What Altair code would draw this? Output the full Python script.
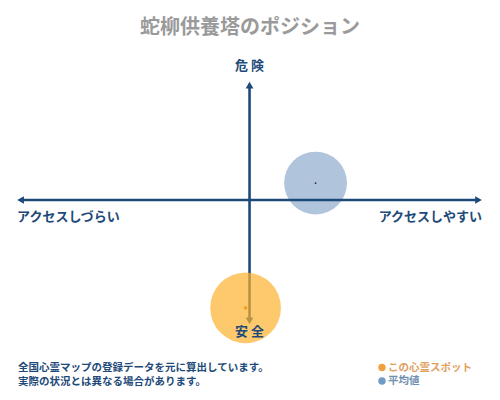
import altair as alt
import pandas as pd

# ---- data ----
title_text = "蛇柳供養塔のポジション"
series = ["この心霊スポット", "平均値"]
access = [-0.017, 0.284]   # x: アクセスしづらい (-1) … アクセスしやすい (+1)
danger = [-0.91, 0.143]    # y: 安全 (-1) … 危険 (+1)
left_label = "アクセスしづらい"
right_label = "アクセスしやすい"
top_label = "危 険"
bottom_label = "安 全"
notes = ["全国心霊マップの登録データを元に算出しています。", "実際の状況とは異なる場合があります。"]

# ---- styles ----
FONT = "Noto Sans CJK JP"
NAVY = "#1d4a78"
W, H = 484, 384

df = pd.DataFrame({"series": series, "access": access, "danger": danger})
one = pd.DataFrame({"k": [0]})

xs = alt.Scale(domain=[-1.039, 1.043], nice=False, zero=False)
ys = alt.Scale(domain=[-1.62, 1.62], nice=False, zero=False)


def X(v):
    return alt.XDatum(v, scale=xs, axis=None)


def Y(v):
    return alt.YDatum(v, scale=ys, axis=None)


px = alt.X("access:Q", scale=xs, axis=None)
py = alt.Y("danger:Q", scale=ys, axis=None)

avg = df[df.series == series[1]]
spot = df[df.series == series[0]]

avg_circle = alt.Chart(avg).mark_circle(size=3950, color="#b0c4dc", opacity=1).encode(x=px, y=py)

h_rule = alt.Chart(one).mark_rule(color=NAVY, strokeWidth=2.6).encode(x=X(-0.985), x2=alt.X2Datum(0.985), y=Y(0))
v_rule = alt.Chart(one).mark_rule(color=NAVY, strokeWidth=2.6).encode(x=X(0), y=Y(-1.02), y2=alt.Y2Datum(0.98))


def head(shape, xv, yv):
    return alt.Chart(one).mark_point(shape=shape, filled=True, size=60, color=NAVY, opacity=1).encode(x=X(xv), y=Y(yv))


heads = [
    head("triangle-left", -0.985, 0),
    head("triangle-right", 0.985, 0),
    head("triangle-up", 0, 0.97),
    head("triangle-down", 0, -1.02),
]

spot_circle = alt.Chart(spot).mark_circle(size=5000, color="#fcb22d", opacity=0.7).encode(x=px, y=py)
spot_dot = alt.Chart(spot).mark_circle(size=14, color="#f5a020", opacity=1).encode(x=px, y=py)
avg_dot = alt.Chart(avg).mark_circle(size=3, color="#222222", opacity=1).encode(x=px, y=py)


def label(text, xv, yv, align, baseline, dy, size=13):
    return alt.Chart(one).mark_text(
        text=text, align=align, baseline=baseline, dy=dy, font=FONT,
        fontSize=size, fontWeight="bold", color=NAVY
    ).encode(x=X(xv), y=Y(yv))


labels = [
    label(left_label, -1.0, 0, "left", "middle", 17),
    label(right_label, 1.0, 0, "right", "middle", 17),
    label(top_label, 0, 1.0, "center", "middle", -15),
    label(bottom_label, 0, -1.05, "center", "top", 2),
]

title = alt.Chart(one).mark_text(
    text=title_text, font=FONT, fontSize=20, fontWeight="bold", color="#9a9a9a",
    align="center", baseline="middle"
).encode(x=alt.value(242), y=alt.value(20))

footer = [
    alt.Chart(one).mark_text(
        text=line, font=FONT, fontSize=10.5, fontWeight="bold", color=NAVY,
        align="left", baseline="middle"
    ).encode(x=alt.value(10), y=alt.value(359.5 + 14 * i))
    for i, line in enumerate(notes)
]

leg_colors = ["#f0a040", "#6f9bc6"]
leg_text_colors = ["#e0a060", "#7090b0"]
legend_layers = []
for i, name in enumerate(series):
    yy = 359.5 + 13.5 * i
    legend_layers.append(
        alt.Chart(one).mark_circle(size=55, color=leg_colors[i], opacity=1).encode(x=alt.value(374), y=alt.value(yy))
    )
    legend_layers.append(
        alt.Chart(one).mark_text(text=name, font=FONT, fontSize=10.5, fontWeight="bold",
                                 color=leg_text_colors[i], align="left", baseline="middle")
        .encode(x=alt.value(380), y=alt.value(yy))
    )

chart = alt.layer(
    avg_circle, h_rule, v_rule, *heads, spot_circle, spot_dot, avg_dot,
    *labels, title, *footer, *legend_layers
).properties(
    width=W, height=H, padding=0, autosize=alt.AutoSizeParams(type="none"),
    background="white"
).configure_view(stroke=None)

chart.save("out.html", embed_options={"renderer": "svg", "actions": False})
